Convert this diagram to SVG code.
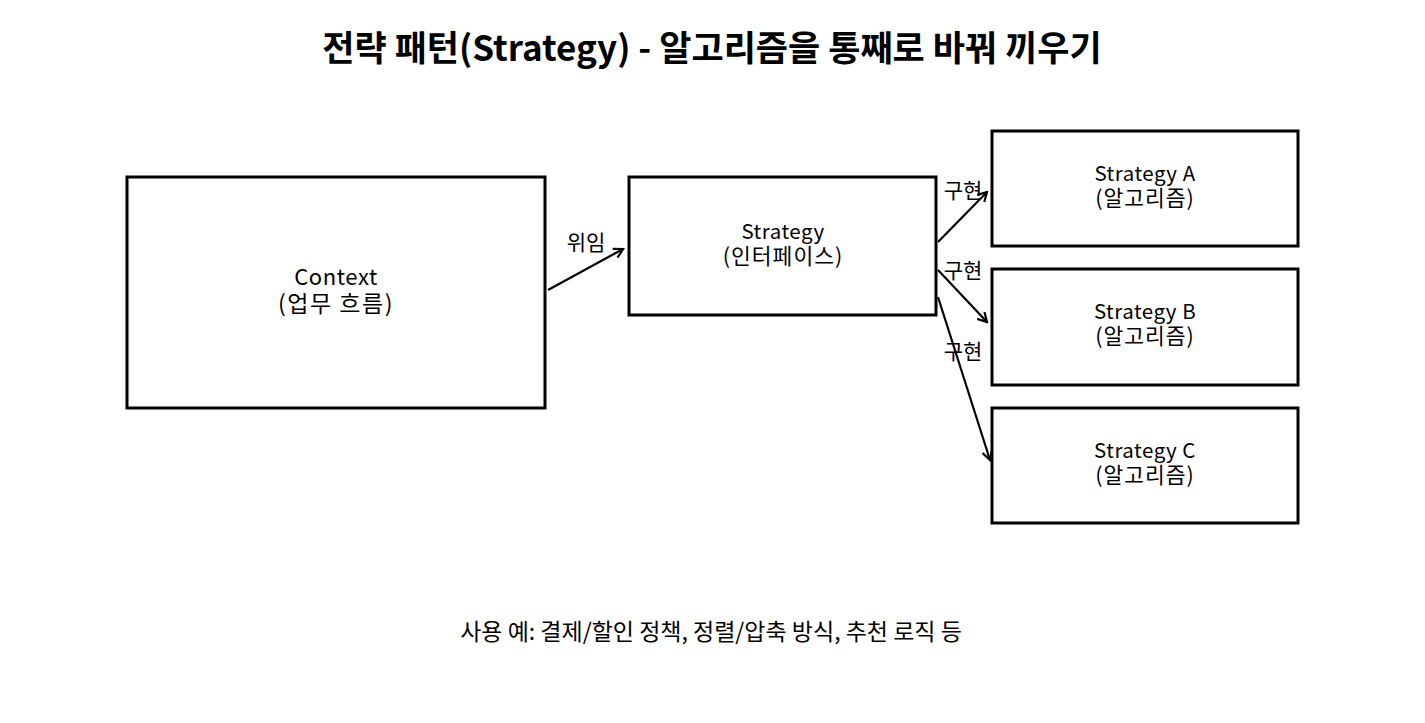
<svg xmlns="http://www.w3.org/2000/svg" width="1425" height="723" viewBox="0 0 1425 723">
<defs>
<style>
text{font-family:"Noto Sans CJK KR","Liberation Sans",sans-serif;fill:#000;text-anchor:middle;}
.box{fill:#fff;stroke:#000;stroke-width:3;}
.title{font-size:35px;font-weight:bold;}
.lat{font-size:20.5px;letter-spacing:0.5px;}
.kor{font-size:21.5px;letter-spacing:1px;}
.clat{font-size:22px;letter-spacing:0.6px;}
.ckor{font-size:23px;letter-spacing:1.5px;}
.edge{fill:none;stroke:#000;stroke-width:2.2;marker-end:url(#arr);}
.el{font-size:21px;}
.note{font-size:23px;}
</style>
<marker id="arr" viewBox="0 0 12 12" refX="10" refY="6" markerWidth="12" markerHeight="12" markerUnits="userSpaceOnUse" orient="auto">
<path d="M1,1 L10,6 L1,11" fill="none" stroke="#000" stroke-width="2.2"/>
</marker>
</defs>
<rect width="1425" height="723" fill="#fff"/>
<text class="title" x="712" y="61">전략 패턴(Strategy) - 알고리즘을 통째로 바꿔 끼우기</text>
<g id="context">
<rect class="box" x="127" y="177" width="418" height="231"/>
<text class="clat" x="336" y="285">Context</text>
<text class="ckor" x="336" y="312">(업무 흐름)</text>
</g>
<g id="strategy">
<rect class="box" x="629" y="177" width="307" height="138"/>
<text class="lat" x="783" y="239">Strategy</text>
<text class="kor" x="783" y="264">(인터페이스)</text>
</g>
<g id="strategyA">
<rect class="box" x="992" y="131" width="306" height="115"/>
<text class="lat" x="1145" y="181">Strategy A</text>
<text class="kor" x="1145" y="206">(알고리즘)</text>
</g>
<g id="strategyB">
<rect class="box" x="992" y="269" width="306" height="116"/>
<text class="lat" x="1145" y="319">Strategy B</text>
<text class="kor" x="1145" y="344">(알고리즘)</text>
</g>
<g id="strategyC">
<rect class="box" x="992" y="408" width="306" height="115"/>
<text class="lat" x="1145" y="458">Strategy C</text>
<text class="kor" x="1145" y="483">(알고리즘)</text>
</g>
<g id="connectors">
<line class="edge" x1="548" y1="290" x2="623" y2="249"/>
<line class="edge" x1="938" y1="242" x2="987" y2="192"/>
<line class="edge" x1="938" y1="270" x2="987" y2="322"/>
<line class="edge" x1="938" y1="297" x2="990" y2="460"/>
<text class="el" x="586" y="250">위임</text>
<text class="el" x="963" y="198">구현</text>
<text class="el" x="963" y="278">구현</text>
<text class="el" x="963" y="359">구현</text>
</g>
<text class="note" x="711" y="640">사용 예: 결제/할인 정책, 정렬/압축 방식, 추천 로직 등</text>
</svg>
